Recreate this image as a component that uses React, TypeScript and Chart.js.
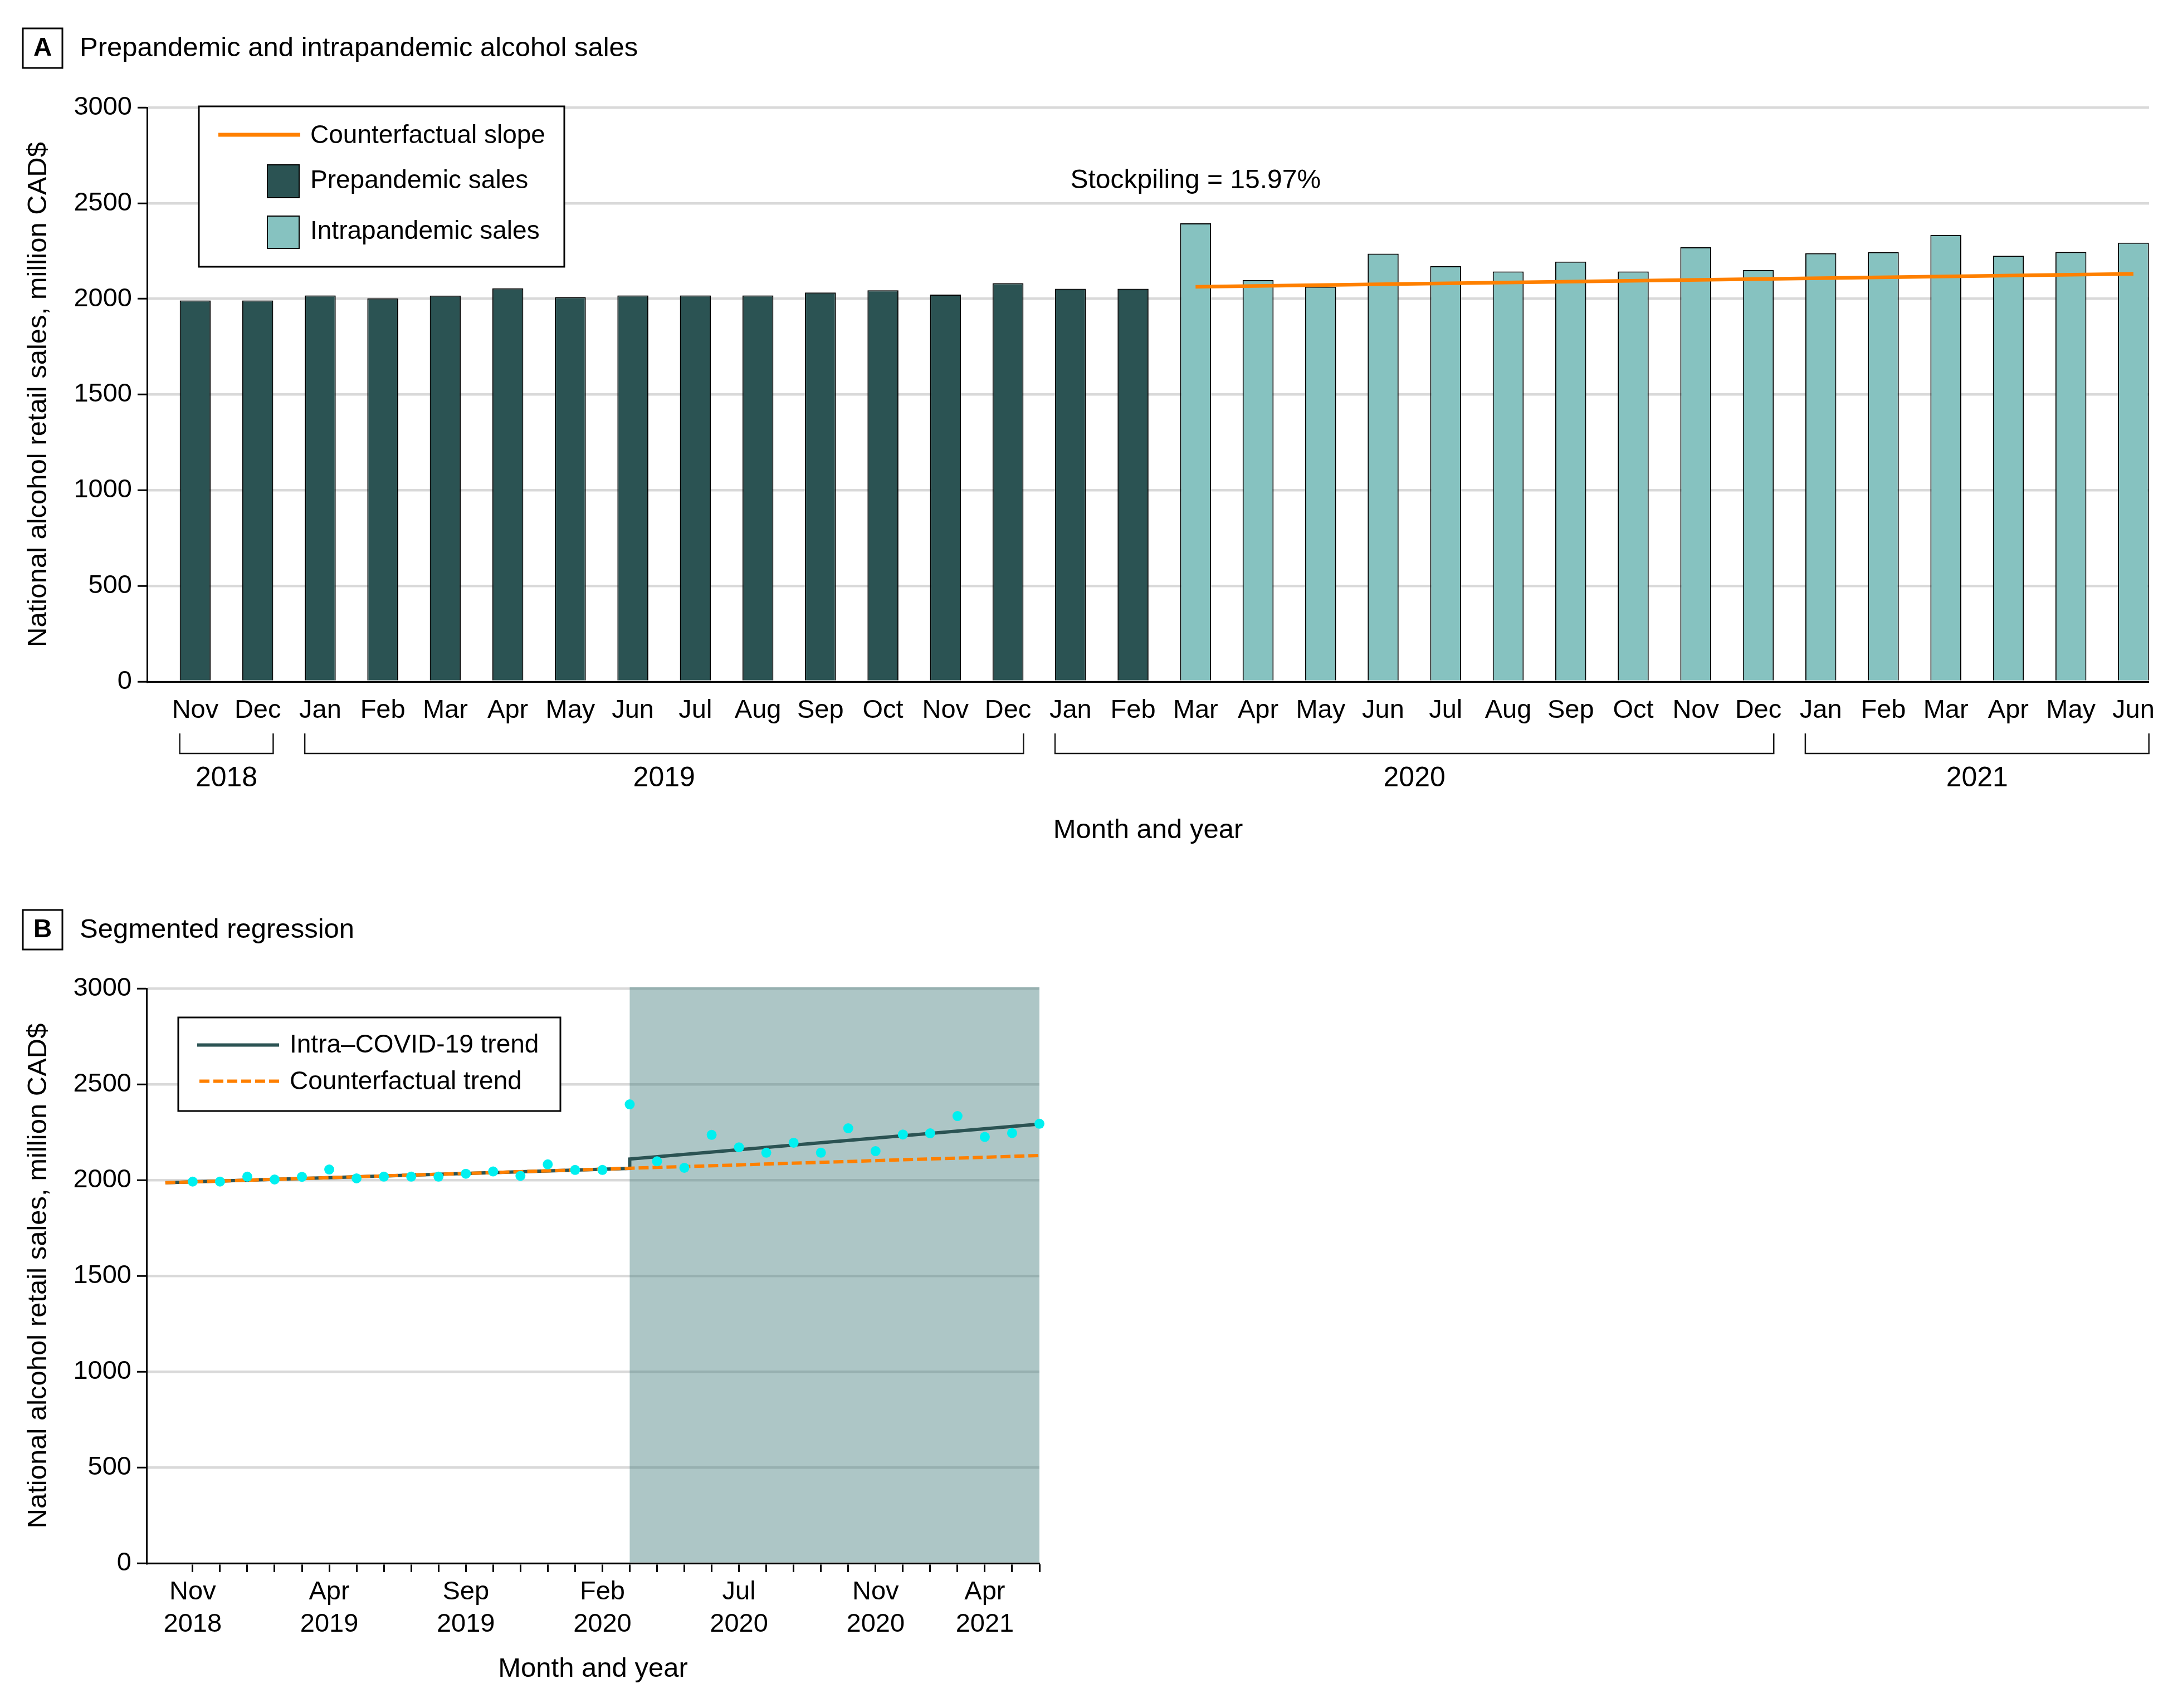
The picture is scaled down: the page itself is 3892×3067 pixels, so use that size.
import React, { useEffect, useRef } from 'react';
import { Chart, registerables } from 'chart.js';

Chart.register(...registerables);

// ---------------- DATA ----------------
const MONTHS = ['Nov', 'Dec', 'Jan', 'Feb', 'Mar', 'Apr', 'May', 'Jun', 'Jul', 'Aug', 'Sep', 'Oct', 'Nov', 'Dec',
  'Jan', 'Feb', 'Mar', 'Apr', 'May', 'Jun', 'Jul', 'Aug', 'Sep', 'Oct', 'Nov', 'Dec',
  'Jan', 'Feb', 'Mar', 'Apr', 'May', 'Jun'];
const YEARS = ['2018', '2018',
  '2019', '2019', '2019', '2019', '2019', '2019', '2019', '2019', '2019', '2019', '2019', '2019',
  '2020', '2020', '2020', '2020', '2020', '2020', '2020', '2020', '2020', '2020', '2020', '2020',
  '2021', '2021', '2021', '2021', '2021', '2021'];

// Nov 2018 - Feb 2020
const PREPANDEMIC_SALES = [1992, 1992, 2018, 2003, 2017, 2055, 2009, 2018, 2018, 2018, 2033, 2045, 2022, 2082, 2053, 2053];
// Mar 2020 - Jun 2021
const INTRAPANDEMIC_SALES = [2395, 2098, 2064, 2236, 2171, 2143, 2195, 2143, 2270, 2151, 2238, 2244, 2334, 2225, 2245, 2294];

// Panel A counterfactual slope (month index, value)
const SLOPE_X = [16, 31];
const SLOPE_Y = [2063, 2131];

// Panel B segmented regression
const INTRA_TREND_X = [-1, 16, 16, 31];
const INTRA_TREND_Y = [1986, 2061, 2110, 2292];
const COUNTERFACTUAL_TREND_X = [-1, 31];
const COUNTERFACTUAL_TREND_Y = [1986, 2128];

const B_TICK_INDEX = [0, 5, 10, 15, 20, 25, 29];
const B_TICK_MONTH = ['Nov', 'Apr', 'Sep', 'Feb', 'Jul', 'Nov', 'Apr'];
const B_TICK_YEAR = ['2018', '2019', '2019', '2020', '2020', '2020', '2021'];

const Y_TICKS_MAX = 3000;
const Y_TICKS_STEP = 500;

const STOCKPILING_TEXT = 'Stockpiling = 15.97%';
const STOCKPILING_AT = { x: 16, y: 2616 };

// ---------------- STYLE ----------------
const FAMILY = "'Liberation Sans', Arial, Helvetica, sans-serif";
const DARK = '#2B5353';
const LIGHT = '#86C2C0';
const ORANGE = '#FF8000';
const CYAN = '#00F0F0';
const SHADE = 'rgba(60,120,120,0.42)';
const GRID = '#D9D9D9';
const BAR_PCT = 0.495;

Chart.defaults.font.family = FAMILY;

function drawPanelLabel(ctx: CanvasRenderingContext2D, letter: string, title: string, top: number) {
  ctx.save();
  ctx.strokeStyle = '#000';
  ctx.lineWidth = 3;
  ctx.strokeRect(41, top, 71, 71);
  ctx.fillStyle = '#000';
  ctx.textBaseline = 'middle';
  ctx.textAlign = 'center';
  ctx.font = `bold 46px ${FAMILY}`;
  ctx.fillText(letter, 76.5, top + 36);
  ctx.textAlign = 'left';
  ctx.font = `49px ${FAMILY}`;
  ctx.fillText(title, 143, top + 36.5);
  ctx.restore();
}

function yearGroups() {
  const groups: { year: string; start: number; end: number }[] = [];
  YEARS.forEach((y, i) => {
    const g = groups[groups.length - 1];
    if (g && g.year === y) g.end = i;
    else groups.push({ year: y, start: i, end: i });
  });
  return groups;
}

const panelAPlugin = {
  id: 'panelA',
  afterDraw(chart: any) {
    const { ctx, chartArea } = chart;
    const xs = chart.scales.x;
    const ys = chart.scales.y;
    drawPanelLabel(ctx, 'A', 'Prepandemic and intrapandemic alcohol sales', 51);

    ctx.save();
    // legend
    ctx.fillStyle = '#fff';
    ctx.fillRect(357, 191, 656, 288);
    ctx.strokeStyle = '#000';
    ctx.lineWidth = 3;
    ctx.strokeRect(357, 191, 656, 288);
    ctx.strokeStyle = ORANGE;
    ctx.lineWidth = 7;
    ctx.beginPath();
    ctx.moveTo(392, 242);
    ctx.lineTo(539, 242);
    ctx.stroke();
    ctx.lineWidth = 2;
    ctx.strokeStyle = '#000';
    ctx.fillStyle = DARK;
    ctx.fillRect(480, 296, 57, 59);
    ctx.strokeRect(480, 296, 57, 59);
    ctx.fillStyle = LIGHT;
    ctx.fillRect(480, 388, 57, 58);
    ctx.strokeRect(480, 388, 57, 58);
    ctx.fillStyle = '#000';
    ctx.font = `46px ${FAMILY}`;
    ctx.textAlign = 'left';
    ctx.textBaseline = 'middle';
    ctx.fillText('Counterfactual slope', 557, 244);
    ctx.fillText('Prepandemic sales', 557, 325);
    ctx.fillText('Intrapandemic sales', 557, 416);

    // stockpiling annotation
    ctx.font = `48px ${FAMILY}`;
    ctx.textAlign = 'center';
    ctx.fillText(STOCKPILING_TEXT, xs.getPixelForValue(STOCKPILING_AT.x), ys.getPixelForValue(STOCKPILING_AT.y));

    // year brackets
    const step = xs.getPixelForValue(1) - xs.getPixelForValue(0);
    const half = (step * BAR_PCT) / 2;
    const b = chartArea.bottom;
    ctx.strokeStyle = '#1a1a1a';
    ctx.lineWidth = 2.5;
    ctx.font = `50px ${FAMILY}`;
    yearGroups().forEach((g) => {
      const l = xs.getPixelForValue(g.start) - half;
      const r = xs.getPixelForValue(g.end) + half;
      ctx.beginPath();
      ctx.moveTo(l, b + 93);
      ctx.lineTo(l, b + 129);
      ctx.lineTo(r, b + 129);
      ctx.lineTo(r, b + 93);
      ctx.stroke();
      ctx.fillText(g.year, (l + r) / 2, b + 174);
    });
    ctx.restore();
  },
};

const panelBPlugin = {
  id: 'panelB',
  beforeDatasetsDraw(chart: any) {
    const { ctx, chartArea } = chart;
    const x0 = chart.scales.x.getPixelForValue(PREPANDEMIC_SALES.length);
    ctx.save();
    ctx.fillStyle = SHADE;
    const top = chartArea.top - 2.5;
    ctx.fillRect(x0, top, chartArea.right - x0, chartArea.bottom - 1.5 - top);
    ctx.restore();
  },
  afterDraw(chart: any) {
    const { ctx } = chart;
    drawPanelLabel(ctx, 'B', 'Segmented regression', 74);
    ctx.save();
    ctx.fillStyle = '#fff';
    ctx.fillRect(320, 267, 686, 168);
    ctx.strokeStyle = '#000';
    ctx.lineWidth = 3;
    ctx.strokeRect(320, 267, 686, 168);
    ctx.lineWidth = 6;
    ctx.strokeStyle = DARK;
    ctx.beginPath();
    ctx.moveTo(354, 316.5);
    ctx.lineTo(501, 316.5);
    ctx.stroke();
    ctx.strokeStyle = ORANGE;
    ctx.setLineDash([18, 7]);
    ctx.beginPath();
    ctx.moveTo(358, 381.5);
    ctx.lineTo(501, 381.5);
    ctx.stroke();
    ctx.setLineDash([]);
    ctx.fillStyle = '#000';
    ctx.font = `46px ${FAMILY}`;
    ctx.textAlign = 'left';
    ctx.textBaseline = 'middle';
    ctx.fillText('Intra\u2013COVID-19 trend', 520, 317);
    ctx.fillText('Counterfactual trend', 520, 383);
    ctx.restore();
  },
};

function yAxis(width: number) {
  return {
    type: 'linear',
    min: 0,
    max: Y_TICKS_MAX,
    afterFit: (s: any) => { s.width = width; },
    ticks: {
      stepSize: Y_TICKS_STEP,
      padding: 10,
      color: '#000',
      font: { size: 47, family: FAMILY },
      callback: (v: any) => String(v),
    },
    grid: { color: GRID, lineWidth: 4.5, tickColor: '#000', tickLength: 17, tickWidth: 3 },
    border: { display: true, color: '#000', width: 3 },
    title: {
      display: true,
      text: 'National alcohol retail sales, million CAD$',
      color: '#000',
      font: { size: 49, family: FAMILY },
      padding: { top: 40, bottom: 0 },
    },
  };
}

export default function App() {
  const refA = useRef<HTMLCanvasElement>(null);
  const refB = useRef<HTMLCanvasElement>(null);

  useEffect(() => {
    const nPre = PREPANDEMIC_SALES.length;
    const preData = PREPANDEMIC_SALES.map((v, i) => ({ x: i, y: v }));
    const intraData = INTRAPANDEMIC_SALES.map((v, i) => ({ x: nPre + i, y: v }));
    const allSales = PREPANDEMIC_SALES.concat(INTRAPANDEMIC_SALES).map((v, i) => ({ x: i, y: v }));

    const chartA = new Chart(refA.current as HTMLCanvasElement, {
      type: 'bar',
      data: {
        datasets: [
          {
            type: 'line',
            label: 'Counterfactual slope',
            data: SLOPE_X.map((x, i) => ({ x, y: SLOPE_Y[i] })),
            borderColor: ORANGE,
            borderWidth: 6.5,
            pointRadius: 0,
            order: 0,
          } as any,
          {
            label: 'Prepandemic sales',
            data: preData,
            backgroundColor: DARK,
            borderColor: '#000',
            borderWidth: 2,
            grouped: false,
            categoryPercentage: 1,
            barPercentage: BAR_PCT,
            order: 1,
          } as any,
          {
            label: 'Intrapandemic sales',
            data: intraData,
            backgroundColor: LIGHT,
            borderColor: '#000',
            borderWidth: 2,
            grouped: false,
            categoryPercentage: 1,
            barPercentage: BAR_PCT,
            order: 2,
          } as any,
        ],
      },
      options: {
        responsive: false,
        animation: false,
        devicePixelRatio: 1,
        layout: { padding: { left: 0, top: 193, right: 26, bottom: 36 } },
        plugins: { legend: { display: false }, tooltip: { enabled: false }, title: { display: false } },
        scales: {
          x: {
            type: 'linear',
            min: -0.77,
            max: 31.25,
            offset: false,
            afterBuildTicks: (s: any) => { s.ticks = MONTHS.map((_, i) => ({ value: i })); },
            afterFit: (s: any) => { s.height = 300; },
            grid: { display: false, drawTicks: false, offset: false },
            border: { display: true, color: '#000', width: 3 },
            ticks: {
              autoSkip: false,
              maxRotation: 0,
              minRotation: 0,
              padding: 24,
              color: '#000',
              font: { size: 47, family: FAMILY },
              callback: (v: any) => MONTHS[v] ?? '',
            },
            title: {
              display: true,
              text: 'Month and year',
              color: '#000',
              font: { size: 49, family: FAMILY },
              padding: { top: 0, bottom: 3 },
            },
          },
          y: yAxis(264),
        } as any,
      },
      plugins: [panelAPlugin],
    } as any);

    const chartB = new Chart(refB.current as HTMLCanvasElement, {
      type: 'scatter',
      data: {
        datasets: [
          {
            type: 'scatter',
            label: 'Monthly sales',
            data: allSales,
            backgroundColor: CYAN,
            borderColor: CYAN,
            borderWidth: 0,
            pointRadius: 9,
            clip: false,
            order: 0,
          } as any,
          {
            type: 'line',
            label: 'Counterfactual trend',
            data: COUNTERFACTUAL_TREND_X.map((x, i) => ({ x, y: COUNTERFACTUAL_TREND_Y[i] })),
            borderColor: ORANGE,
            borderWidth: 6,
            borderDash: [18, 7],
            pointRadius: 0,
            order: 1,
          } as any,
          {
            type: 'line',
            label: 'Intra\u2013COVID-19 trend',
            data: INTRA_TREND_X.map((x, i) => ({ x, y: INTRA_TREND_Y[i] })),
            borderColor: DARK,
            borderWidth: 6,
            pointRadius: 0,
            order: 2,
          } as any,
        ],
      },
      options: {
        responsive: false,
        animation: false,
        devicePixelRatio: 1,
        layout: { padding: { left: 0, top: 215, right: 2026, bottom: 30 } },
        plugins: { legend: { display: false }, tooltip: { enabled: false }, title: { display: false } },
        scales: {
          x: {
            type: 'linear',
            min: -1.69,
            max: MONTHS.length - 1,
            offset: false,
            afterBuildTicks: (s: any) => { s.ticks = MONTHS.map((_, i) => ({ value: i })); },
            afterFit: (s: any) => { s.height = 230; },
            grid: {
              display: true,
              drawOnChartArea: false,
              drawTicks: true,
              tickLength: 16,
              tickWidth: 3,
              tickColor: '#000',
              color: '#000',
            },
            border: { display: true, color: '#000', width: 3 },
            ticks: {
              autoSkip: false,
              maxRotation: 0,
              minRotation: 0,
              padding: 7,
              color: '#000',
              font: { size: 47, family: FAMILY, lineHeight: 1.24 },
              callback: (v: any) => {
                const k = B_TICK_INDEX.indexOf(v);
                return k >= 0 ? [B_TICK_MONTH[k], B_TICK_YEAR[k]] : '';
              },
            },
            title: {
              display: true,
              text: 'Month and year',
              color: '#000',
              font: { size: 49, family: FAMILY },
              padding: { top: 0, bottom: 10 },
            },
          },
          y: yAxis(263),
        } as any,
      },
      plugins: [panelBPlugin],
    } as any);

    return () => {
      chartA.destroy();
      chartB.destroy();
    };
  }, []);

  return (
    <div style={{ position: 'absolute', left: 0, top: 0, width: 3892, height: 3067, background: '#fff' }}>
      <canvas
        ref={refA}
        width={3892}
        height={1560}
        style={{ position: 'absolute', left: 0, top: 0, width: 3892, height: 1560 }}
      />
      <canvas
        ref={refB}
        width={3892}
        height={1507}
        style={{ position: 'absolute', left: 0, top: 1560, width: 3892, height: 1507 }}
      />
    </div>
  );
}
